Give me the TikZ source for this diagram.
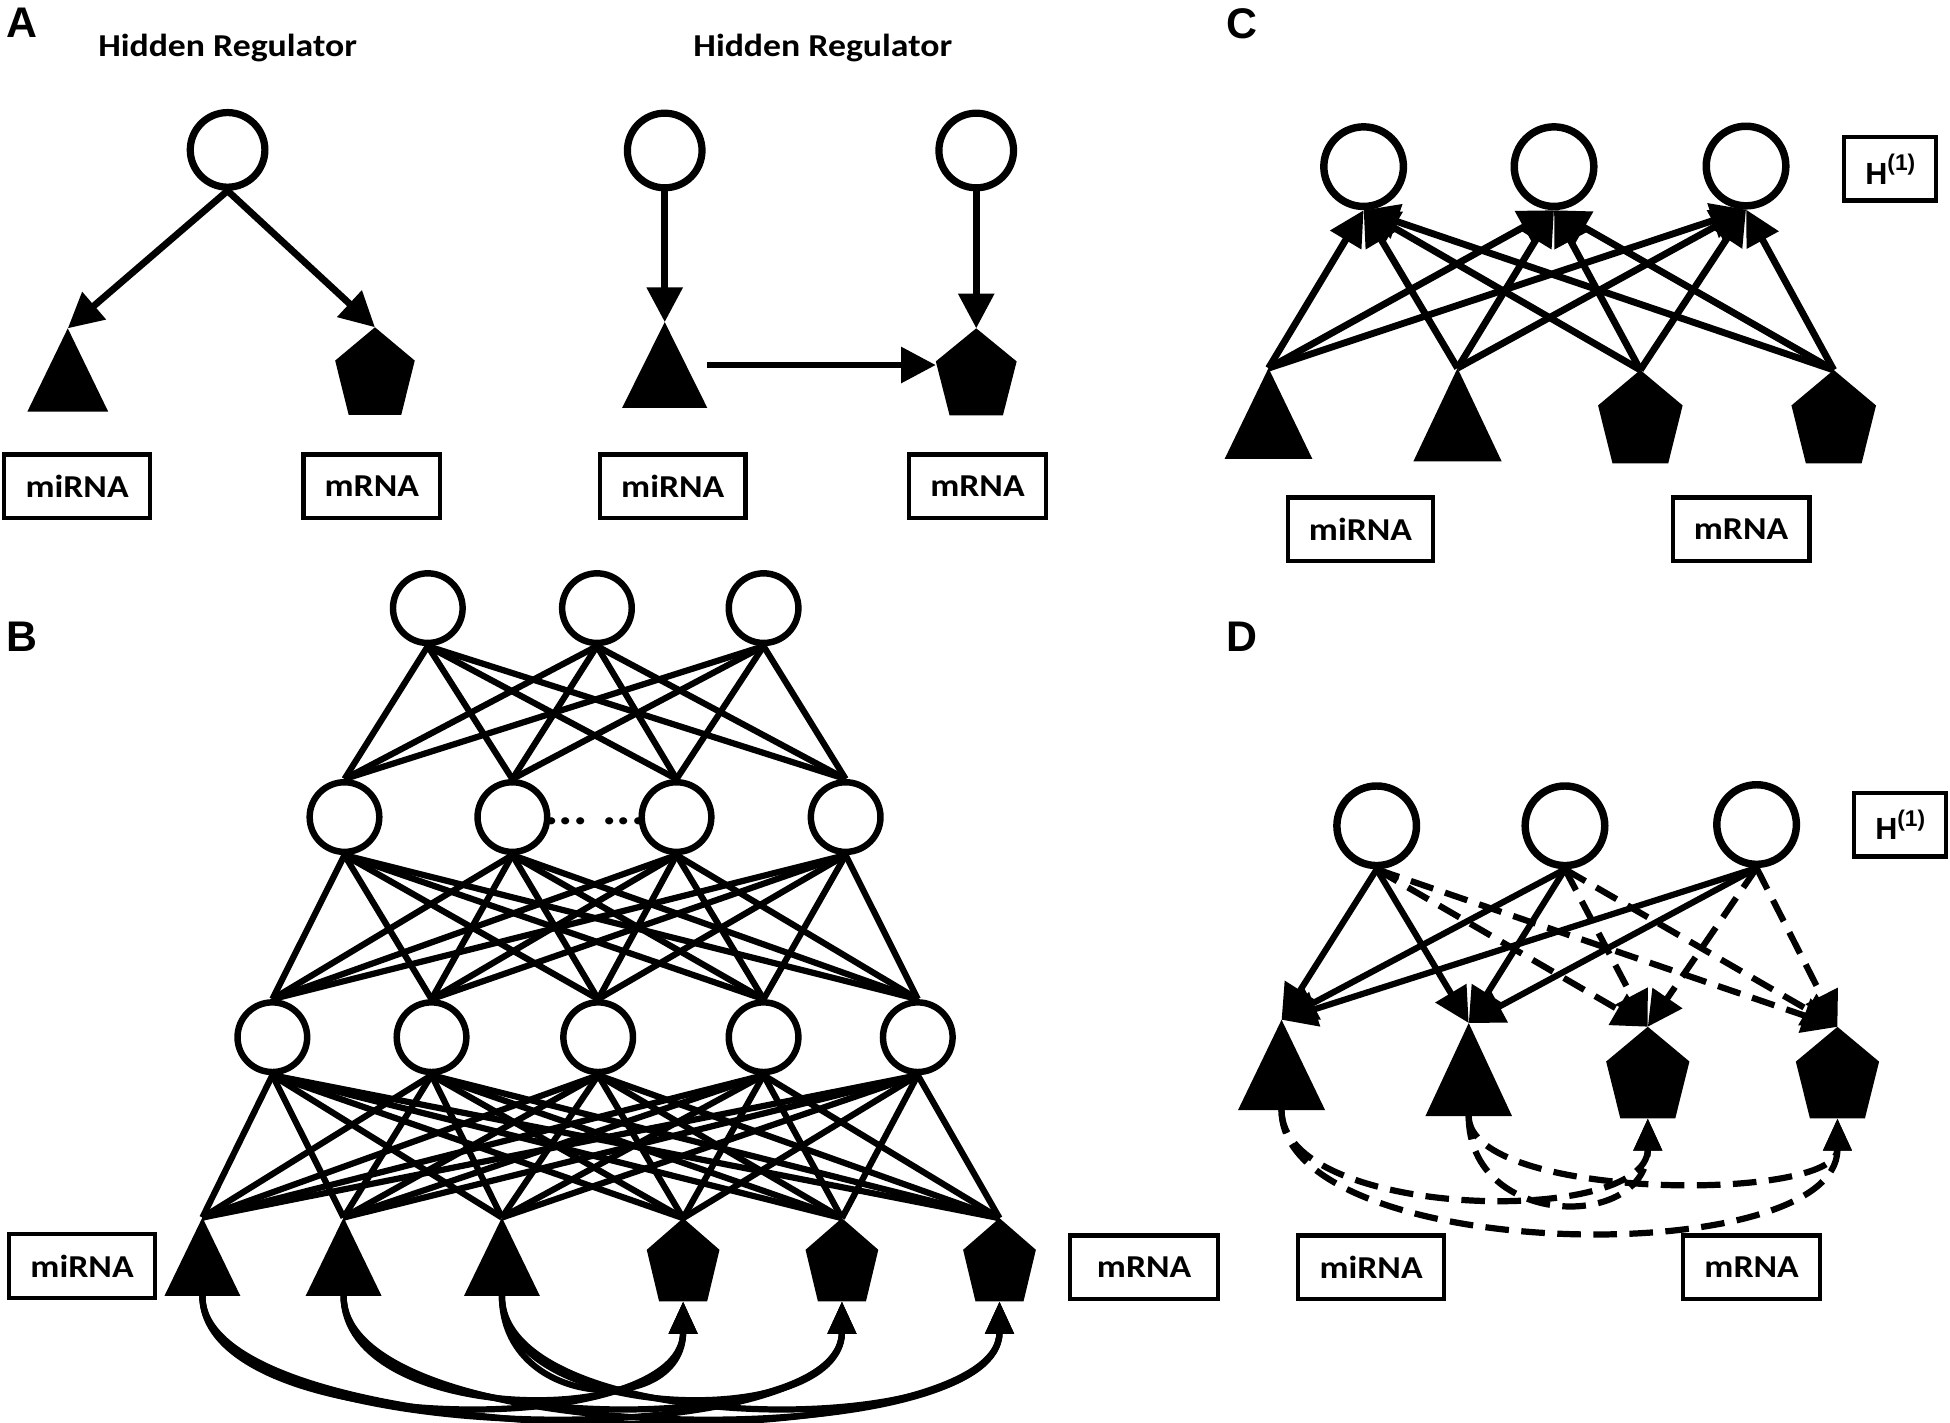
\documentclass[tikz,border=0pt]{standalone}
\usepackage{fontspec}
\setmainfont{Liberation Sans}
\newfontfamily\labfont[FakeStretch=1.12]{Carlito}
\newfontfamily\panelfont{Liberation Sans}
\usetikzlibrary{arrows.meta,calc}

\begin{document}
\begin{tikzpicture}[x=0.1mm,y=-0.1mm,>={Triangle[length=2.8mm,width=2.8mm]},
	hid/.style={circle,draw,line width=0.58mm,minimum size=6mm,inner sep=0pt},
	hidb/.style={hid,line width=0.52mm,minimum size=5.6mm},
	hidc/.style={hid,line width=0.6mm,minimum size=6.4mm},
	mi/.style={rectangle,inner sep=0pt,outer sep=0pt,minimum width=6.6mm,minimum height=6.8mm,
		path picture={\fill (path picture bounding box.north) -- (path picture bounding box.south east)
			-- (path picture bounding box.south west) -- cycle;}},
	mr/.style={rectangle,inner sep=0pt,outer sep=0pt,minimum width=6.4mm,minimum height=7mm,
		path picture={\fill (path picture bounding box.north)
			-- ($(path picture bounding box.north east)!0.38!(path picture bounding box.south east)$)
			-- ($(path picture bounding box.south east)!0.17!(path picture bounding box.south west)$)
			-- ($(path picture bounding box.south west)!0.17!(path picture bounding box.south east)$)
			-- ($(path picture bounding box.north west)!0.38!(path picture bounding box.south west)$) -- cycle;}},
	box/.style={draw,line width=0.34mm,minimum height=5.1mm,inner xsep=1.7mm,inner ysep=0pt,
		font=\labfont\bfseries\fontsize{7.3pt}{8pt}\selectfont},
	lab/.style={inner sep=0pt,font=\labfont\bfseries\fontsize{7.3pt}{8pt}\selectfont},
	panel/.style={inner sep=0pt,font=\panelfont\bfseries\fontsize{9.8pt}{10pt}\selectfont},
	hbox/.style={draw,line width=0.34mm,minimum width=7.4mm,minimum height=5.1mm,inner sep=0pt,
		font=\panelfont\bfseries\fontsize{7pt}{8pt}\selectfont},
	arr/.style={->,line width=0.55mm},
	link/.style={line width=0.5mm},
	loop/.style={->,line width=0.5mm,>={Triangle[length=2.6mm,width=2.2mm]}},
	dline/.style={->,line width=0.5mm,dash pattern=on 1.9mm off 1mm},
	]
	\useasboundingbox (0,0) rectangle (1568,1144);

	% A
	\node[panel] (la) at (18,18) {A};
	\node[lab,anchor=base] (hr1) at (183,45.7) {Hidden Regulator};
	\node[lab,anchor=base] (hr2) at (661.6,45.7) {Hidden Regulator};
	\node[hid] (hA1) at (183,120.5) {};
	\node[mi,minimum width=6.5mm,minimum height=6.7mm] (tA1) at (54.5,297.5) {};
	\node[mr,minimum width=6.4mm,minimum height=7.05mm] (pA1) at (301.5,298.4) {};
	\node[box] (bA1) at (62,391) {miRNA};
	\node[box] (bA2) at (299,391) {mRNA};
	\node[hid] (hA2) at (534.5,121) {};
	\node[hid] (hA3) at (785,121) {};
	\node[mi,minimum width=6.85mm,minimum height=6.9mm] (tA2) at (534.5,293.5) {};
	\node[mr,minimum width=6.5mm,minimum height=7mm] (pA2) at (785,299) {};
	\node[box] (bA3) at (541,391) {miRNA};
	\node[box] (bA4) at (786,391) {mRNA};

	\draw[arr] (hA1.south) -- (tA1.north);
	\draw[arr] (hA1.south) -- (pA1.north);
	\draw[arr] (hA2.south) -- (tA2.north);
	\draw[arr] (hA3.south) -- (pA2.north);
	\draw[arr] (tA2.east) -- (tA2.east -| pA2.west);

	% B
	\node[panel] (lb) at (17.7,512) {B};
	\foreach \n/\x in {1/344,2/480,3/614}
		\node[hidb] (u\n) at (\x,489) {};
	\foreach \n/\x in {1/277,2/412,3/544,4/680}
		\node[hidb] (v\n) at (\x,657) {};
	\foreach \n/\x in {1/219,2/347,3/481,4/614,5/738}
		\node[hidb] (w\n) at (\x,834) {};
	\node[lab,anchor=base,font=\labfont\bfseries\fontsize{11pt}{12pt}\selectfont] (dots) at (478.5,663) {...\hspace{1.2mm}...};
	\foreach \n/\x in {1/162.75,2/276.3,3/403.6}
		\node[mi,minimum width=6.1mm,minimum height=6.3mm] (x\n) at (\x,1010.5) {};
	\foreach \n/\x in {4/549.3,5/677,6/803.7}
		\node[mr,minimum width=5.85mm,minimum height=6.7mm] (x\n) at (\x,1013) {};
	\node[box] (bB1) at (66,1018) {miRNA};
	\node[box,minimum width=11.9mm] (bB2) at (920,1019) {mRNA};

	\foreach \i in {1,2,3}
		\foreach \j in {1,...,4}
			\draw[link] (u\i.south) -- (v\j.north);
	\foreach \i in {1,...,4}
		\foreach \j in {1,...,5}
			\draw[link] (v\i.south) -- (w\j.north);
	\foreach \i in {1,...,5}
		\foreach \j in {1,...,6}
			\draw[link] (w\i.south) -- (x\j.north);
	\foreach \i/\j/\d in {1/4/11.4,1/5/12.5,1/6/13,2/4/10.4,2/5/11.4,2/6/12.5,3/4/9.3,3/5/10.4,3/6/11.4}
		\draw[loop] (x\i.south) to[out=-90,in=-90,distance=\d mm] (x\j.south);

	% C
	\node[panel] (lc) at (998.5,19) {C};
	\node[hidc] (c1) at (1096.5,134) {};
	\node[hidc] (c2) at (1249.6,134) {};
	\node[hidc] (c3) at (1404,133.5) {};
	\node[hbox] (hC) at (1520,135.8) {H\raisebox{0.85ex}{\fontsize{5.2pt}{6pt}\selectfont(1)}};
	\node[mi,minimum width=7.05mm,minimum height=7.3mm] (cT1) at (1020,332.5) {};
	\node[mi,minimum width=7.1mm,minimum height=7.5mm] (cT2) at (1172,333.5) {};
	\node[mr,minimum width=6.8mm,minimum height=7.5mm] (cP1) at (1319,335) {};
	\node[mr,minimum width=6.8mm,minimum height=7.5mm] (cP2) at (1474.5,335) {};
	\node[box] (bC1) at (1094,425.5) {miRNA};
	\node[box] (bC2) at (1400,425.5) {mRNA};

	\foreach \s in {cT1,cT2,cP1,cP2}
		\foreach \c in {c1,c2,c3}
			\draw[arr] (\s.north) -- (\c.south);

	% D
	\node[panel] (ld) at (998.5,512) {D};
	\node[hidc] (d1) at (1107,664) {};
	\node[hidc] (d2) at (1258.4,664) {};
	\node[hidc] (d3) at (1412.5,663) {};
	\node[hbox] (hD) at (1528,663.2) {H\raisebox{0.85ex}{\fontsize{5.2pt}{6pt}\selectfont(1)}};
	\node[mi,minimum width=7mm,minimum height=7.26mm] (dT1) at (1030.5,856.3) {};
	\node[mi,minimum width=6.96mm,minimum height=7.48mm] (dT2) at (1181,860) {};
	\node[mr,minimum width=6.7mm,minimum height=7.36mm] (dP1) at (1325,862.4) {};
	\node[mr,minimum width=6.7mm,minimum height=7.36mm] (dP2) at (1477.5,862.5) {};
	\node[box] (bD1) at (1102.5,1019) {miRNA};
	\node[box] (bD2) at (1408.5,1019) {mRNA};

	\foreach \c in {d1,d2,d3} {
		\draw[arr,line width=0.5mm] (\c.south) -- (dT1.north);
		\draw[arr,line width=0.5mm] (\c.south) -- (dT2.north);
		\draw[dline] (\c.south) -- (dP1.north);
		\draw[dline] (\c.south) -- (dP2.north);
	}
	\draw[dline,>={Triangle[length=2.6mm,width=2.2mm]}] (dT1.south) to[out=-90,in=-90,distance=8.8mm] (dP1.south);
	\draw[dline,>={Triangle[length=2.6mm,width=2.2mm]}] (dT1.south) to[out=-90,in=-90,distance=12.4mm] (dP2.south);
	\draw[dline,>={Triangle[length=2.6mm,width=2.2mm]}] (dT2.south) to[out=-90,in=-90,distance=9.1mm] (dP1.south);
	\draw[dline,>={Triangle[length=2.6mm,width=2.2mm]}] (dT2.south) to[out=-90,in=-90,distance=6.8mm] (dP2.south);
\end{tikzpicture}
\end{document}
